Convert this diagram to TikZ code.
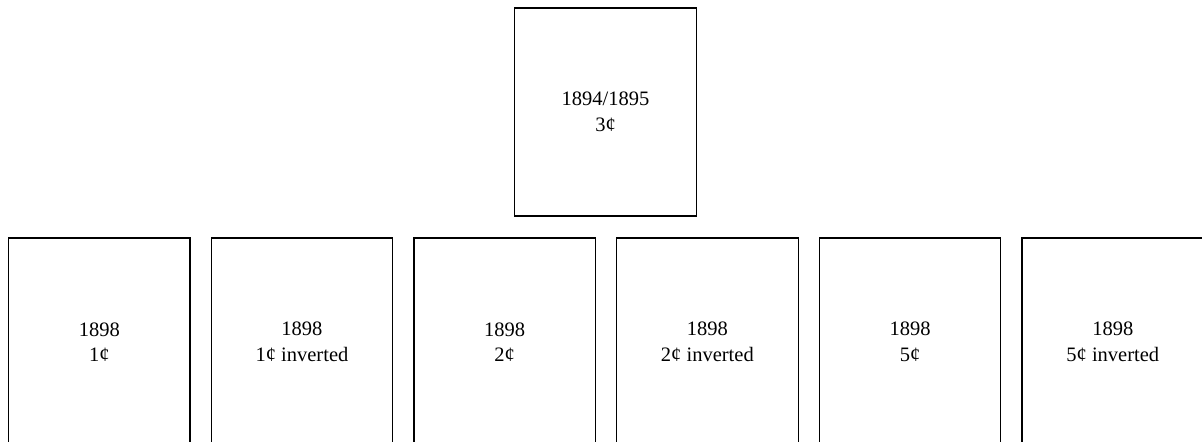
\documentclass[tikz,border=0pt]{standalone}
\usepackage{fontspec}
\setmainfont{Liberation Serif}
\usetikzlibrary{positioning}

\begin{document}
\begin{tikzpicture}[
    x=0.5pt, y=-0.5pt,
    node distance=10pt,
    stamp/.style={draw, line width=0.6pt, minimum width=90.75pt, minimum height=104pt, inner sep=0pt, align=center, font=\fontsize{10.25}{12.8}\selectfont},
]
\useasboundingbox (0,0) rectangle (1202,441);
\clip (0,0) rectangle (1202,441);

% Earlier issue
\node[stamp] (s3c) at (605.5,112) {1894/1895\\3¢};

% 1898 issues
\node[stamp] (s1c) at (99.25,342) {1898\\1¢};
\node[stamp, right=of s1c] (s1cinv) {1898\\1¢ inverted};
\node[stamp, right=of s1cinv] (s2c) {1898\\2¢};
\node[stamp, right=of s2c] (s2cinv) {1898\\2¢ inverted};
\node[stamp, right=of s2cinv] (s5c) {1898\\5¢};
\node[stamp, right=of s5c] (s5cinv) {1898\\5¢ inverted};

\end{tikzpicture}
\end{document}
